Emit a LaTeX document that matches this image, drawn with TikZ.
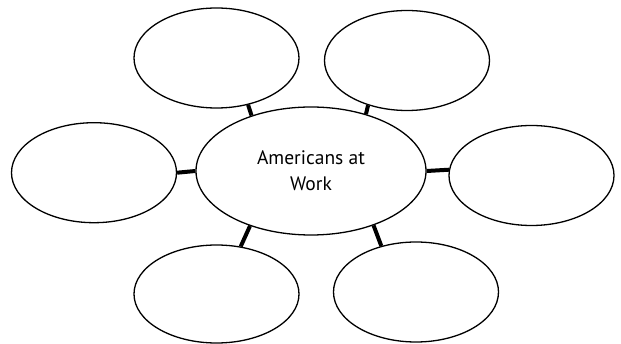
\documentclass[tikz,border=0pt]{standalone}
\usepackage{fontspec}
\setmainfont{PT Sans}
\usetikzlibrary{shapes.geometric}
\tikzset{
  bulle/.style={draw, ellipse, line width=1.3pt, inner sep=0pt,
    minimum width=165pt, minimum height=100pt},
  liaison/.style={line width=4pt},
}
\begin{document}
\begin{tikzpicture}[x=1pt, y=-1pt]
    \useasboundingbox (0,0) rectangle (621,344);
    % Bulle centrale
    \node[bulle, minimum width=230pt, minimum height=128pt, align=center,
      font=\fontsize{19.5}{26}\selectfont] (work) at (311,171) {Americans at\\Work};

    % Bulles autour
    \node[bulle] (tl) at (216.5,58) {};
    \node[bulle] (tr) at (407,60.5) {};
    \node[bulle] (lft) at (94,172.7) {};
    \node[bulle] (rgt) at (531.5,175.5) {};
    \node[bulle, minimum height=98pt] (bl) at (216.5,294) {};
    \node[bulle] (br) at (416,292) {};

    % Liaisons
    \draw[liaison] (work.137) -- (tl.-56);
    \draw[liaison] (work.46) -- (tr.-131);
    \draw[liaison] (work.west) -- (lft.east);
    \draw[liaison] (work.east) -- (rgt.176);
    \draw[liaison] (work.222) -- (bl.63);
    \draw[liaison] (work.-41) -- (br.127);
\end{tikzpicture}
\end{document}
